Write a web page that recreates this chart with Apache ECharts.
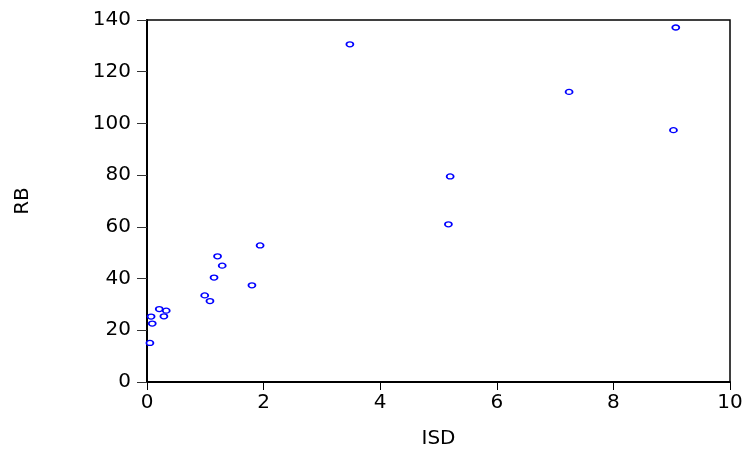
<!DOCTYPE html>
<html>
<head>
<meta charset="utf-8">
<script src="https://cdn.jsdelivr.net/npm/echarts@6/dist/echarts.min.js"></script>
<style>body{margin:0;background:#fff}</style>
</head>
<body>
<div id="main" style="width:747px;height:452px;"></div>
<script>
// ISD vs RB
var isd = [0.05, 0.07, 0.09, 0.21, 0.29, 0.33, 0.99, 1.08, 1.15, 1.21, 1.29, 1.80, 1.94, 3.48, 5.17, 5.20, 7.24, 9.03, 9.07];
var rb  = [15.1, 25.3, 22.6, 28.2, 25.4, 27.6, 33.5, 31.3, 40.4, 48.6, 45.0, 37.4, 52.8, 130.6, 61.0, 79.5, 112.2, 97.4, 137.1];

var chart = echarts.init(document.getElementById('main'));
var font = 'DejaVu Sans, Arial, sans-serif';
var pts = isd.map(function (x, i) { return [x, rb[i]]; });

chart.setOption({
    animation: false,
    grid: {
        left: 147, right: 17, top: 20, bottom: 70,
        containLabel: false, outerBoundsMode: 'none',
        show: true, borderColor: '#000', borderWidth: 1.5
    },
    xAxis: {
        type: 'value', min: 0, max: 10, interval: 2,
        name: 'ISD', nameLocation: 'middle', nameGap: 47,
        nameTextStyle: { fontFamily: font, fontSize: 20, color: '#000' },
        axisLine: { show: true, onZero: false, lineStyle: { color: '#000', width: 2 } },
        axisTick: { show: true, inside: false, length: 8, lineStyle: { color: '#000' } },
        axisLabel: { fontFamily: font, fontSize: 20, color: '#000', margin: 11 },
        splitLine: { show: false }
    },
    yAxis: {
        type: 'value', min: 0, max: 140, interval: 20,
        name: 'RB', nameLocation: 'middle', nameGap: 114, nameRotate: 90,
        nameTextStyle: { fontFamily: font, fontSize: 20, color: '#000' },
        axisLine: { show: true, onZero: false, lineStyle: { color: '#000', width: 2 } },
        axisTick: { show: true, inside: false, length: 10, lineStyle: { color: '#333' } },
        axisLabel: { fontFamily: font, fontSize: 20, color: '#000', margin: 16 },
        splitLine: { show: false }
    },
    series: [{
        type: 'scatter',
        data: pts,
        symbol: 'circle',
        symbolSize: [7, 5],
        itemStyle: { color: '#fff', borderColor: '#0000ff', borderWidth: 1.5, opacity: 1 }
    }]
});
</script>
</body>
</html>
